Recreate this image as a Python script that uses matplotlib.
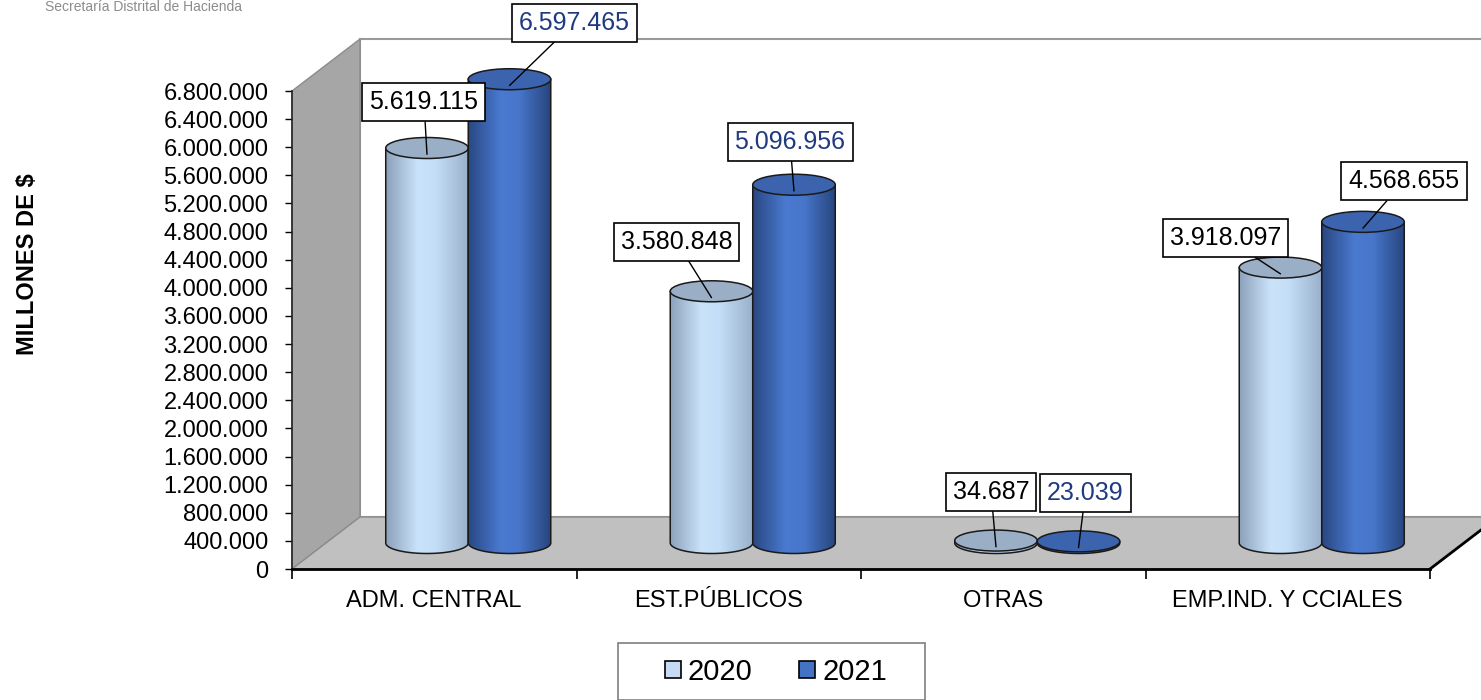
import numpy as np
import matplotlib
matplotlib.use('Agg')
import matplotlib.pyplot as plt
from matplotlib.patches import Ellipse, Polygon, Rectangle, PathPatch, Patch
from matplotlib.path import Path
from matplotlib.ticker import FuncFormatter, FixedLocator

plt.rcParams['font.family'] = ['Liberation Sans', 'DejaVu Sans']

# datos
categorias = ['ADM. CENTRAL', 'EST.PÚBLICOS', 'OTRAS', 'EMP.IND. Y CCIALES']
series = ['2020', '2021']
valores_2020 = [5619115, 3580848, 34687, 3918097]
valores_2021 = [6597465, 5096956, 23039, 4568655]
ticks_y = list(range(0, 6800001, 400000))

# estilo
col_tapa = ['#9aaec6', '#3c64ae']
col_leyenda = ['#c6dcf4', '#4472c4']
gradientes = [
    [(0.0, (0.55, 0.63, 0.73)), (0.38, (0.79, 0.89, 0.98)), (0.6, (0.77, 0.87, 0.97)), (1.0, (0.60, 0.69, 0.79))],
    [(0.0, (0.16, 0.28, 0.51)), (0.4, (0.29, 0.48, 0.82)), (0.62, (0.28, 0.46, 0.79)), (1.0, (0.15, 0.27, 0.49))],
]
col_texto = [['black'] * 4, ['#1f3a80', '#1f3a80', '#1f3a80', 'black']]
# desplazamiento de cada etiqueta (px) respecto a la tapa
desp = [[(-3, 52), (-35, 56), (-5, 55), (-55, 36)],
        [(65, 63), (-4, 49), (7, 55), (41, 47)]]

W, H = 1481, 700
fig = plt.figure(figsize=(W / 100, H / 100), dpi=100)
ax = fig.add_axes([292 / W, 131 / H, 1138 / W, 478 / H])
ymax = 6800000
ax.set_xlim(-0.5, 3.5)
ax.set_ylim(0, ymax)
ax.set_autoscale_on(False)

px_x = 1138 / 4.0
px_y = 478 / ymax
DX = 68 / px_x
DY = 52 / px_y
EH = 21 / px_y
ancho = 0.29

# paredes y piso
ax.add_patch(Rectangle((-0.5 + DX, DY), 4, ymax, facecolor='white', edgecolor='#9a9a9a',
                       lw=1.5, clip_on=False, zorder=0.3))
ax.add_patch(Polygon([(-0.5, 0), (-0.5, ymax), (-0.5 + DX, ymax + DY), (-0.5 + DX, DY)],
                     closed=True, facecolor='#a6a6a6', edgecolor='#8c8c8c', lw=1, clip_on=False, zorder=0.4))
ax.add_patch(Polygon([(-0.5, 0), (3.5, 0), (3.5 + DX, DY), (-0.5 + DX, DY)],
                     closed=True, facecolor='#c0c0c0', edgecolor='#8c8c8c', lw=1, clip_on=False, zorder=0.5))
ax.plot([3.5, 3.5 + DX], [0, DY], color='black', lw=2, clip_on=False, zorder=0.6)


def gradiente(stops, n=256):
    pos = np.array([s[0] for s in stops])
    cols = np.array([s[1] for s in stops])
    t = np.linspace(0, 1, n)
    return np.stack([np.interp(t, pos, cols[:, k]) for k in range(3)], axis=-1)[None, :, :]


def cilindro(xc, valor, j):
    a = ancho / 2
    base = DY / 2
    top = base + valor
    z = 2 + 0.1 * j
    th = np.linspace(np.pi, 2 * np.pi, 80)
    arco = np.column_stack([xc + a * np.cos(th), base + EH / 2 * np.sin(th)])
    verts = np.vstack([[[xc - a, top]], arco, [[xc + a, top]], [[xc - a, top]]])
    cuerpo = PathPatch(Path(verts, closed=True), facecolor='none', edgecolor='#1a1a1a',
                       lw=1.1, zorder=z + 0.01, clip_on=False)
    ax.add_patch(cuerpo)
    im = ax.imshow(gradiente(gradientes[j]), extent=[xc - a, xc + a, base - EH / 2, top],
                   aspect='auto', interpolation='bilinear', zorder=z)
    im.set_clip_path(cuerpo)
    im.set_clip_box(fig.bbox)
    ax.add_patch(Ellipse((xc, top), 2 * a, EH, facecolor=col_tapa[j], edgecolor='#1a1a1a',
                         lw=1.1, zorder=z + 0.02, clip_on=False))
    return top


for j, vals in enumerate([valores_2020, valores_2021]):
    for i, v in enumerate(vals):
        xc = i + DX / 2 + (-ancho / 2 if j == 0 else ancho / 2)
        top = cilindro(xc, v, j)
        dx, dy = desp[j][i]
        ax.annotate(f'{v:,}'.replace(',', '.'), xy=(xc, top - 0.3 * EH),
                    xytext=(dx * 0.72, dy * 0.72), textcoords='offset points',
                    ha='center', va='center', fontsize=18, color=col_texto[j][i],
                    bbox=dict(boxstyle='square,pad=0.28', facecolor='white', edgecolor='black', lw=1.2),
                    arrowprops=dict(arrowstyle='-', color='black', lw=1, shrinkA=0, shrinkB=0),
                    annotation_clip=False, zorder=5)

ax.set_xlim(-0.5, 3.5)
ax.set_ylim(0, ymax)

# ejes
for s in ['top', 'right']:
    ax.spines[s].set_visible(False)
ax.spines['left'].set_color('#262626')
ax.spines['left'].set_linewidth(1.2)
ax.spines['bottom'].set_color('black')
ax.spines['bottom'].set_linewidth(2)
ax.spines['bottom'].set_zorder(3)

ax.yaxis.set_major_locator(FixedLocator(ticks_y))
ax.yaxis.set_major_formatter(FuncFormatter(lambda v, p: f'{int(v):,}'.replace(',', '.')))
ax.tick_params(axis='y', labelsize=17, length=5, width=1, pad=12, direction='out')

ax.set_xticks([-0.5, 0.5, 1.5, 2.5, 3.5])
ax.set_xticklabels([])
ax.set_xticks(range(len(categorias)), minor=True)
ax.set_xticklabels(categorias, minor=True)
ax.tick_params(axis='x', which='major', length=7, width=1.2)
ax.tick_params(axis='x', which='minor', length=0, labelsize=17, pad=15)

fig.text(28 / W, 1 - 264 / H, 'MILLONES DE $', rotation=90, ha='center', va='center',
         fontsize=17, fontweight='bold')
fig.text(45 / W, 1 - 7 / H, 'Secretaría Distrital de Hacienda', ha='left', va='center',
         fontsize=10, color='#8c8c8c')

# leyenda
fig.add_artist(Rectangle((618 / W, 0), 307 / W, 57 / H, transform=fig.transFigure,
                         facecolor='white', edgecolor='#7f7f7f', lw=1.2, zorder=1))
handles = [Patch(facecolor=col_leyenda[k], edgecolor='black', lw=1.2, label=series[k]) for k in range(2)]
leg = fig.legend(handles=handles, loc='center', bbox_to_anchor=(776 / W, 1 - 672 / H), ncol=2,
                 fontsize=21, frameon=False,
                 handlelength=0.55, handleheight=0.55, handletextpad=0.25, columnspacing=1.6,
                 borderpad=0, borderaxespad=0)
leg.set_zorder(2)

fig.savefig('out.png', dpi=100)
